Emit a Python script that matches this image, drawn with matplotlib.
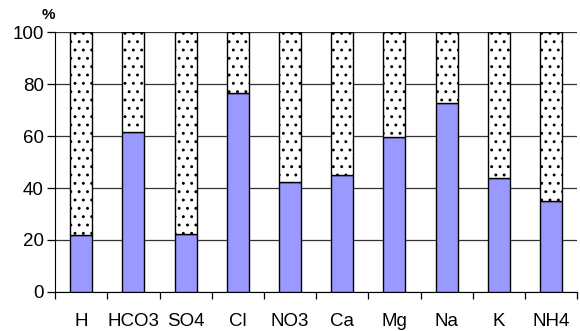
import matplotlib
matplotlib.use("Agg")
import matplotlib.pyplot as plt
import numpy as np

plt.rcParams['font.family'] = ['Liberation Sans', 'DejaVu Sans']
plt.rcParams['hatch.linewidth'] = 0.9

ions = ["H", "HCO3", "SO4", "Cl", "NO3", "Ca", "Mg", "Na", "K", "NH4"]
share = [22, 61.5, 22.3, 76.5, 42.3, 45, 59.6, 72.7, 43.8, 35]
rest = [100 - v for v in share]
yticks = [0, 20, 40, 60, 80, 100]

fig = plt.figure(figsize=(5.8, 3.31), dpi=100)
ax = fig.add_axes([0.095, 0.118, 0.90, 0.785])

x = np.arange(len(ions))
ax.bar(x, share, width=0.42, color="#9999ff", edgecolor="black", linewidth=1.0, zorder=3)
ax.bar(x, rest, bottom=share, width=0.42, color="white", edgecolor="black",
       linewidth=1.0, hatch="..", zorder=3)

ax.set_xlim(-0.5, len(ions) - 0.5)
ax.set_ylim(0, 100)
ax.set_yticks(yticks)
ax.yaxis.grid(True, color="#333333", linewidth=0.9, zorder=0)
ax.set_axisbelow(True)

ax.set_xticks(x)
ax.set_xticklabels(ions, fontsize=13.5)
ax.set_xticks(np.arange(-0.5, len(ions) - 0.4, 1.0), minor=True)
ax.tick_params(axis="x", which="major", length=0, pad=15)
ax.tick_params(axis="x", which="minor", length=5, width=0.9, direction="out")
ax.tick_params(axis="y", labelsize=13.5, length=6, width=0.9, direction="out", pad=2)

for s in ["top", "right"]:
    ax.spines[s].set_visible(False)
ax.spines["left"].set_color("black")
ax.spines["bottom"].set_color("black")

fig.text(0.083, 0.935, "%", fontsize=11, fontweight="bold", ha="center", va="bottom")

fig.savefig("out.png", dpi=100)
